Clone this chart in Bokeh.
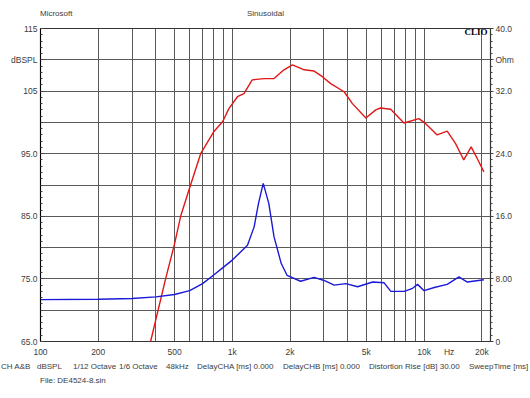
from bokeh.plotting import figure
from bokeh.models import Range1d, LinearAxis, FixedTicker, Label, Div
from bokeh.layouts import column
from bokeh.embed import file_html
from bokeh.resources import INLINE

# ---- data ----
spl_freq = [360, 375, 449, 500, 538, 600, 684, 800, 890, 960, 1064, 1150, 1270, 1463,
            1650, 1860, 2060, 2370, 2670, 2950, 3260, 3830, 4230, 4970, 5600, 5920,
            6700, 7850, 9400, 10200, 11700, 13200, 14600, 16100, 17600, 19100, 20500]
spl_db = [63.8, 65.0, 75.0, 80.6, 85.0, 89.6, 95.0, 98.5, 100.1, 102.2, 104.1, 104.6, 106.8, 107.0,
          107.0, 108.4, 109.2, 108.4, 108.2, 107.3, 106.2, 104.9, 103.0, 100.7, 102.0, 102.3,
          102.1, 99.9, 100.6, 99.8, 98.0, 98.6, 96.6, 94.0, 96.1, 94.0, 92.1]

imp_freq = [100, 200, 300, 400, 500, 600, 700, 800, 900, 1000, 1200, 1300, 1370, 1450,
            1550, 1650, 1800, 1930, 2270, 2670, 3010, 3400, 3910, 4500, 5390, 6190,
            6710, 7880, 8710, 9250, 10000, 11300, 13200, 15200, 16800, 20500]
imp_ohm = [5.35, 5.4, 5.5, 5.7, 6.0, 6.5, 7.4, 8.5, 9.5, 10.4, 12.3, 14.65, 17.65, 20.2,
           17.65, 13.4, 9.96, 8.46, 7.7, 8.2, 7.8, 7.2, 7.4, 7.0, 7.6, 7.5,
           6.4, 6.4, 6.8, 7.3, 6.5, 6.9, 7.3, 8.25, 7.6, 7.9]

x_tick_values = [100, 200, 500, 1000, 2000, 5000, 10000, 13500, 20000]
x_tick_labels = ["100", "200", "500", "1k", "2k", "5k", "10k", "Hz", "20k"]
x_grid_values = [200, 300, 400, 500, 600, 700, 800, 900, 1000, 2000, 3000, 4000,
                 5000, 6000, 7000, 8000, 9000, 10000, 20000]
left_tick_values = [65, 75, 85, 95, 105, 110, 115]
left_tick_labels = ["65.0", "75.0", "85.0", "95.0", "105", "dBSPL", "115"]
y_grid_values = [70, 75, 80, 85, 90, 95, 100, 105, 110]
right_tick_values = [0, 8, 16, 24, 32, 36, 40]
right_tick_labels = ["0", "8.00", "16.0", "24.0", "32.0", "Ohm", "40.0"]

header_items = ["Microsoft", "Sinusoidal"]
footer_items = ["CH A&B", "dBSPL", "1/12 Octave", "1/6 Octave", "48kHz",
                "DelayCHA [ms] 0.000", "DelayCHB [ms] 0.000",
                "Distortion Rise [dB] 30.00", "SweepTime [ms]"]
file_text = "File: DE4524-8.sin"

# ---- layout / style (positions in px) ----
header_x = [40, 247]
footer_x = [1, 37, 73, 119, 166, 197, 283, 369, 469]
FONT = "Liberation Sans"
TXT = "#3c3c3c"
GRID = "#5a5a5a"
SPAN = ("position:absolute;white-space:nowrap;font-family:'Liberation Sans',Arial,sans-serif;"
        "font-size:8px;line-height:10px;color:#3c3c3c;")

header_html = '<div style="position:relative;width:530px;height:22px;">' + "".join(
    f'<span style="{SPAN}left:{x}px;top:9px;">{t}</span>' for t, x in zip(header_items, header_x)
) + "</div>"
footer_html = '<div style="position:relative;width:530px;height:30px;">' + "".join(
    f'<span style="{SPAN}left:{x}px;top:1px;">{t.replace("&", "&amp;")}</span>'
    for t, x in zip(footer_items, footer_x)
) + f'<span style="{SPAN}left:40px;top:15px;">{file_text}</span></div>'

header = Div(text=header_html, width=530, height=22, margin=0)
footer = Div(text=footer_html, width=530, height=30, margin=0)

p = figure(frame_width=450, frame_height=313, x_axis_type="log",
           x_range=Range1d(100, 22200), y_range=Range1d(65, 115),
           min_border_left=40, min_border_right=40, min_border_top=6, min_border_bottom=20,
           output_backend="svg", toolbar_location=None, margin=0)
p.extra_y_ranges = {"ohm": Range1d(0, 40)}
p.background_fill_color = "white"
p.border_fill_color = "white"
p.outline_line_color = "#333333"
p.outline_line_width = 1.2

# x axis
xa = p.xaxis[0]
xa.ticker = FixedTicker(ticks=x_tick_values)
xa.major_label_overrides = {v: t for v, t in zip(x_tick_values, x_tick_labels)}
xa.axis_line_color = None
xa.major_tick_in = 0
xa.major_tick_out = 0
xa.minor_tick_line_color = None
xa.major_label_standoff = 5
xa.major_label_text_font = FONT
xa.major_label_text_font_size = "8.5px"
xa.major_label_text_color = TXT

# left axis
ya = p.yaxis[0]
ya.ticker = FixedTicker(ticks=left_tick_values, minor_ticks=list(range(65, 116)))
ya.major_label_overrides = {v: t for v, t in zip(left_tick_values, left_tick_labels)}
ya.axis_line_color = "black"
ya.major_tick_in = 4
ya.major_tick_out = 0
ya.minor_tick_in = 2
ya.minor_tick_out = 0
ya.major_tick_line_color = "#444444"
ya.minor_tick_line_color = "#444444"
ya.major_label_standoff = 3
ya.major_label_text_font = FONT
ya.major_label_text_font_size = "8.5px"
ya.major_label_text_color = TXT

# grids
p.xgrid.ticker = FixedTicker(ticks=x_grid_values)
p.ygrid.ticker = FixedTicker(ticks=y_grid_values)
for g in (p.xgrid, p.ygrid):
    g.grid_line_color = GRID
    g.grid_line_width = 1
    g.grid_line_alpha = 1.0

# right axis
ra = LinearAxis(y_range_name="ohm")
ra.ticker = FixedTicker(ticks=right_tick_values,
                        minor_ticks=[round(i * 0.8, 2) for i in range(51)])
ra.major_label_overrides = {v: t for v, t in zip(right_tick_values, right_tick_labels)}
ra.axis_line_color = "#333333"
ra.major_tick_in = 0
ra.major_tick_out = 3
ra.minor_tick_in = 0
ra.minor_tick_out = 2
ra.major_tick_line_color = "#444444"
ra.minor_tick_line_color = "#444444"
ra.major_label_standoff = 2
ra.major_label_text_font = FONT
ra.major_label_text_font_size = "8.5px"
ra.major_label_text_color = TXT
p.add_layout(ra, "right")

# curves
p.line(spl_freq, spl_db, line_color="#e01818", line_width=1.4)
p.line(imp_freq, imp_ohm, line_color="#1a1ad8", line_width=1.4, y_range_name="ohm")

# CLIO mark inside the frame (screen units relative to frame bottom-left)
p.add_layout(Label(x=447, y=310, x_units="screen", y_units="screen", text="CLIO",
                   text_font="Liberation Serif", text_font_style="bold",
                   text_font_size="9px", text_color="black",
                   text_align="right", text_baseline="middle"))

layout = column(header, p, footer, spacing=0)
open("out.html", "w").write(file_html(layout, INLINE))
